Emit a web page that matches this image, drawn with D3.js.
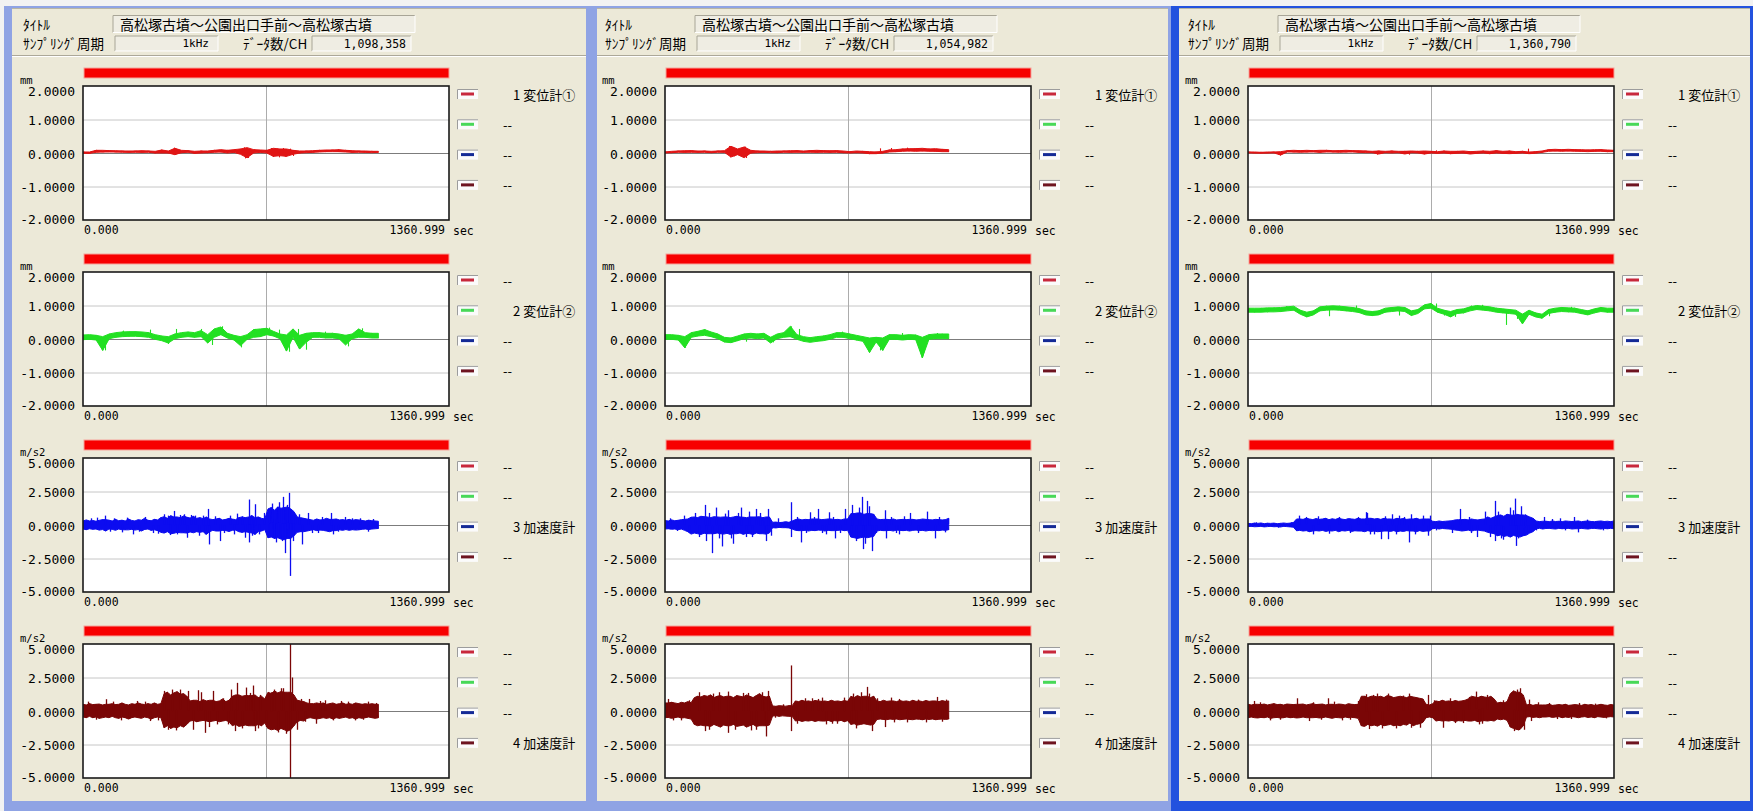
<!DOCTYPE html>
<html>
<head>
<meta charset="utf-8">
<script src="https://cdn.jsdelivr.net/npm/d3@7"></script>
<style>
  html, body { margin: 0; padding: 0; background: #ffffff; }
  svg { display: block; }
</style>
</head>
<body>
<svg id="chart" width="1753" height="811"></svg>
<script>
// ---- Recording metadata ----
const recordTitle = "高松塚古墳～公園出口手前～高松塚古墳";
const samplingLabel = "1kHz";
const sampleRateHz = 1000;
const sampleCounts = [1098358, 1054982, 1360790];
const timeAxisEnd = 1360.999;
const channelNames = ["変位計①", "変位計②", "加速度計", "加速度計"];
const channelUnits = ["mm", "mm", "m/s2", "m/s2"];
const dispTicks = [2, 1, 0, -1, -2];
const accelTicks = [5, 2.5, 0, -2.5, -5];

// ---- Min/max envelopes, evenly spaced over each recording; peaks are [sec, value] ----
// Record 1
const r1c1Hi = [0.03,0.03,0.08,0.08,0.07,0.07,0.06,0.06,0.06,0.07,0.06,0.05,0.09,0.06,0.14,0.08,0.07,0.05,0.06,0.06,0.08,0.10,0.08,0.10,0.12,0.16,0.10,0.09,0.08,0.14,0.12,0.12,0.08,0.06,0.06,0.07,0.08,0.09,0.09,0.10,0.08,0.07,0.06,0.06,0.05,0.05];
const r1c1Lo = [-0.01,-0.01,0.02,0.03,0.03,0.03,0.02,0.02,0.02,0.02,0.02,0.00,0.00,0.00,-0.05,0.01,0.02,-0.01,0.00,0.01,0.02,0.03,0.00,0.02,-0.04,-0.14,0.00,0.02,0.00,-0.10,-0.08,-0.10,-0.04,0.00,0.01,0.02,0.03,0.04,0.04,0.04,0.03,0.02,0.02,0.02,0.01,0.02];
const r1c1Peaks = [[340,0.16],[343,-0.06],[598,0.17],[602,-0.16],[608,0.15],[613,-0.15],[700,0.15],[706,-0.12],[720,0.13],[728,-0.13],[742,0.15],[750,-0.11],[770,0.13],[780,-0.09],[950,0.11]];
const r1c2Hi = [0.12,0.13,0.11,0.07,0.15,0.19,0.21,0.22,0.22,0.21,0.19,0.13,0.09,0.07,0.15,0.19,0.21,0.19,0.25,0.13,0.30,0.36,0.17,0.11,0.07,0.13,0.28,0.30,0.32,0.23,0.15,0.12,0.30,0.11,0.17,0.19,0.19,0.17,0.17,0.15,0.11,0.15,0.30,0.19,0.17,0.17];
const r1c2Lo = [-0.02,-0.01,-0.03,-0.34,0.01,0.05,0.07,0.08,0.08,0.07,0.05,-0.01,-0.05,-0.12,0.01,0.05,0.07,0.05,0.07,-0.12,0.05,0.13,0.03,-0.03,-0.20,-0.01,0.05,0.07,0.13,0.09,0.01,-0.36,0.05,-0.30,-0.10,0.05,0.05,0.03,0.03,0.01,-0.18,0.01,0.05,0.05,0.03,0.03];
const r1c2Peaks = [[81,-0.34],[150,0.25],[250,0.28],[317,-0.15],[345,0.3],[440,0.3],[480,-0.18],[516,0.38],[588,-0.25],[640,0.3],[690,0.34],[730,0.28],[766,-0.38],[800,0.3],[830,-0.32],[900,0.22],[987,-0.22],[1037,0.32]];
const r1c3Hi = [0.3,0.38,0.3,0.34,0.28,0.35,0.4,0.4,0.36,0.3,0.42,0.32,0.36,0.3,0.45,0.34,0.3,0.4,0.36,0.5,0.35,0.32,0.42,0.38,0.55,0.62,0.5,0.7,0.6,0.6,0.55,0.68,0.58,0.52,0.65,0.5,0.55,0.48,0.6,0.45,0.4,0.45,0.5,0.38,0.42,0.5,0.44,0.4,0.55,0.6,0.55,0.6,0.7,0.55,0.6,0.5,0.45,1.2,1.3,1.1,1.35,1.25,1.3,1.35,1.2,1.0,0.6,0.55,0.5,0.45,0.4,0.35,0.45,0.38,0.4,0.5,0.42,0.42,0.45,0.38,0.4,0.36,0.42,0.35,0.4,0.38,0.34,0.3,0.36,0.32,0.3,0.28];
const r1c3Lo = [-0.3,-0.35,-0.28,-0.32,-0.3,-0.38,-0.34,-0.45,-0.3,-0.32,-0.4,-0.3,-0.35,-0.36,-0.36,-0.32,-0.38,-0.34,-0.45,-0.33,-0.3,-0.4,-0.36,-0.42,-0.55,-0.6,-0.5,-0.65,-0.62,-0.55,-0.58,-0.58,-0.6,-0.52,-0.58,-0.5,-0.55,-0.5,-0.7,-0.5,-0.4,-0.45,-0.45,-0.4,-0.42,-0.48,-0.4,-0.38,-0.5,-0.55,-0.5,-0.55,-0.6,-0.7,-0.5,-0.45,-0.35,-0.95,-0.9,-1.0,-0.95,-1.05,-1.1,-1.0,-1.0,-0.8,-0.55,-0.5,-0.5,-0.45,-0.4,-0.35,-0.42,-0.38,-0.4,-0.45,-0.5,-0.42,-0.42,-0.36,-0.4,-0.34,-0.4,-0.35,-0.38,-0.36,-0.32,-0.3,-0.34,-0.3,-0.28,-0.26];
const r1c3Peaks = [[30,0.5],[53,0.55],[81,0.7],[100,-0.5],[117,0.5],[145,-0.55],[165,0.55],[187,-0.7],[210,-0.5],[231,0.6],[260,-0.6],[280,-0.65],[302,0.8],[315,0.7],[325,-0.75],[338,1.05],[350,-0.7],[360,0.75],[375,0.8],[388,-0.95],[400,0.75],[417,0.7],[431,-0.8],[445,0.7],[455,-0.7],[466,1.2],[470,-1.45],[490,0.65],[509,-1.2],[525,-0.6],[545,0.7],[560,-0.7],[573,0.85],[590,0.65],[602,-0.95],[616,1.9],[618,-1.3],[630,-0.8],[638,1.55],[655,-0.7],[673,0.9],[690,0.75],[702,1.6],[710,-1.0],[716,-1.3],[725,1.3],[730,1.7],[740,-1.2],[745,2.1],[752,-2.1],[758,1.5],[766,2.4],[769,-3.8],[780,-1.2],[790,0.8],[802,0.8],[816,-1.45],[837,0.9],[850,-0.6],[873,-0.6],[890,0.6],[923,0.9],[930,-0.7],[950,-0.5],[973,0.6],[1000,0.5],[1030,0.5],[1058,-0.5],[1080,0.45]];
const r1c4Hi = [0.5,0.45,0.55,0.48,0.5,0.52,0.45,0.5,0.5,0.55,0.48,0.5,0.6,0.5,0.45,0.55,0.5,0.6,0.52,0.48,0.55,0.5,0.6,0.5,0.55,1.3,1.4,1.2,1.35,1.45,1.25,1.3,1.1,0.75,0.8,0.8,0.7,0.85,0.75,0.8,0.8,0.7,0.75,0.9,0.7,0.8,1.1,1.2,1.2,1.1,1.15,1.15,1.15,1.2,1.0,1.1,0.9,1.4,1.3,1.5,1.35,1.45,1.4,1.4,1.4,1.2,0.8,0.75,0.7,0.6,0.55,0.55,0.6,0.55,0.6,0.5,0.55,0.6,0.5,0.55,0.6,0.5,0.55,0.5,0.6,0.55,0.5,0.55,0.5,0.55,0.5,0.5];
const r1c4Lo = [-0.45,-0.5,-0.4,-0.5,-0.45,-0.55,-0.5,-0.45,-0.5,-0.4,-0.5,-0.55,-0.45,-0.5,-0.6,-0.5,-0.45,-0.5,-0.55,-0.45,-0.5,-0.6,-0.5,-0.45,-0.5,-1.25,-1.1,-1.3,-1.2,-1.25,-1.1,-1.2,-1.0,-0.75,-0.7,-0.8,-0.75,-0.7,-0.75,-0.8,-0.75,-0.7,-0.8,-0.75,-0.7,-0.8,-1.1,-1.0,-1.15,-1.1,-1.05,-1.1,-1.1,-1.1,-1.0,-1.1,-0.9,-1.3,-1.4,-1.35,-1.45,-1.3,-1.4,-1.5,-1.4,-1.1,-0.8,-0.7,-0.75,-0.55,-0.5,-0.55,-0.6,-0.55,-0.5,-0.55,-0.5,-0.6,-0.5,-0.55,-0.5,-0.45,-0.55,-0.5,-0.6,-0.5,-0.55,-0.5,-0.45,-0.5,-0.55,-0.5];
const r1c4Peaks = [[20,0.7],[50,-0.65],[85,0.88],[110,0.7],[140,-0.7],[170,-0.6],[200,0.75],[230,0.7],[250,-0.75],[280,-0.7],[300,1.5],[315,-1.4],[330,1.6],[345,-1.45],[360,1.6],[390,1.5],[410,-1.4],[426,1.55],[440,1.4],[455,-1.63],[470,-1.2],[483,1.5],[500,-1.0],[520,0.95],[540,-1.0],[550,1.6],[565,-1.5],[572,2.1],[590,-1.3],[605,1.75],[620,1.35],[633,1.9],[640,-1.5],[650,-1.3],[660,1.2],[680,-1.2],[700,1.4],[710,1.6],[725,-1.6],[735,1.7],[745,1.7],[755,-1.7],[770,5.0],[771,-5.0],[776,2.5],[785,0.95],[795,-1.4],[812,0.9],[825,-0.8],[840,0.9],[866,-0.95],[880,0.75],[900,0.8],[930,-0.7],[960,0.75],[985,0.7],[1010,-0.7],[1040,-0.65],[1060,0.7],[1090,0.6]];

// Record 2
const r2c1Hi = [0.03,0.05,0.06,0.07,0.07,0.06,0.06,0.05,0.06,0.07,0.20,0.12,0.18,0.08,0.06,0.06,0.05,0.06,0.06,0.07,0.07,0.06,0.07,0.08,0.07,0.07,0.07,0.06,0.04,0.06,0.05,0.04,0.03,0.05,0.09,0.10,0.12,0.13,0.13,0.14,0.12,0.13,0.11,0.10];
const r2c1Lo = [0.00,0.01,0.02,0.02,0.02,0.02,0.02,0.01,0.02,0.02,-0.12,-0.05,-0.14,0.00,0.01,0.02,0.01,0.01,0.02,0.02,0.02,0.02,0.02,0.02,0.02,0.02,0.02,0.01,0.00,0.01,0.00,-0.02,-0.02,0.00,0.03,0.04,0.05,0.06,0.05,0.06,0.05,0.05,0.04,0.04];
const r2c1Peaks = [[238,0.21],[243,-0.13],[252,0.18],[258,-0.1],[296,0.19],[302,-0.15],[800,0.14],[840,0.15],[900,0.16]];
const r2c2Hi = [0.13,0.13,0.11,0.07,0.19,0.23,0.28,0.21,0.15,0.05,0.03,0.09,0.15,0.17,0.15,0.17,0.05,0.15,0.19,0.38,0.13,0.07,0.04,0.07,0.09,0.13,0.19,0.19,0.15,0.11,0.07,0.03,0.05,0.03,0.13,0.13,0.11,0.13,0.12,0.05,0.13,0.15,0.15,0.15];
const r2c2Lo = [-0.01,-0.01,-0.03,-0.26,0.05,0.09,0.11,0.07,0.01,-0.09,-0.11,-0.05,0.01,0.03,0.01,0.03,-0.12,0.01,0.05,0.07,-0.01,-0.07,-0.10,-0.07,-0.05,-0.01,0.05,0.05,0.01,-0.03,-0.07,-0.40,-0.09,-0.34,-0.01,-0.01,-0.03,-0.01,-0.02,-0.56,-0.01,0.01,0.01,0.01];
const r2c2Peaks = [[75,-0.26],[150,0.28],[300,-0.08],[400,-0.1],[470,0.38],[500,0.3],[660,0.22],[760,-0.4],[800,-0.34],[880,0.18],[955,-0.56],[1010,0.18]];
const r2c3Hi = [0.33,0.3,0.38,0.32,0.35,0.4,0.42,0.45,0.58,0.6,0.55,0.65,0.62,0.6,0.55,0.62,0.6,0.58,0.6,0.6,0.55,0.6,0.65,0.6,0.58,0.55,0.6,0.6,0.6,0.62,0.55,0.6,0.6,0.2,0.22,0.18,0.2,0.25,0.2,0.3,0.4,0.45,0.38,0.42,0.4,0.45,0.45,0.45,0.4,0.42,0.45,0.45,0.4,0.42,0.38,0.45,0.45,0.85,0.85,0.9,0.9,0.8,0.85,0.85,0.8,0.45,0.4,0.42,0.42,0.4,0.45,0.38,0.4,0.42,0.4,0.42,0.42,0.38,0.4,0.45,0.42,0.4,0.38,0.42,0.4,0.38,0.4,0.5];
const r2c3Lo = [-0.3,-0.28,-0.32,-0.3,-0.35,-0.3,-0.4,-0.5,-0.68,-0.6,-0.65,-0.7,-0.62,-0.65,-0.65,-0.65,-0.6,-0.65,-0.68,-0.62,-0.7,-0.65,-0.65,-0.6,-0.7,-0.62,-0.65,-0.7,-0.6,-0.65,-0.65,-0.68,-0.6,-0.2,-0.22,-0.18,-0.2,-0.2,-0.22,-0.3,-0.4,-0.42,-0.42,-0.4,-0.45,-0.4,-0.42,-0.38,-0.4,-0.45,-0.4,-0.42,-0.42,-0.4,-0.38,-0.42,-0.4,-0.9,-0.95,-1.0,-0.95,-0.9,-0.95,-0.9,-0.85,-0.45,-0.4,-0.42,-0.42,-0.4,-0.45,-0.38,-0.4,-0.42,-0.4,-0.45,-0.4,-0.38,-0.42,-0.4,-0.45,-0.4,-0.42,-0.4,-0.42,-0.38,-0.4,-0.35];
const r2c3Peaks = [[20,0.5],[45,-0.45],[69,0.7],[90,-0.6],[111,0.9],[125,-0.9],[147,1.5],[154,-1.2],[165,0.9],[176,-2.1],[190,1.3],[200,-1.0],[211,-1.6],[222,0.85],[233,1.1],[245,-1.0],[254,-1.4],[270,0.9],[283,1.3],[300,-0.9],[311,1.0],[325,-0.9],[340,1.2],[355,0.9],[376,-1.2],[383,1.2],[395,-0.8],[420,0.5],[468,1.7],[470,-0.9],[490,0.6],[504,-1.3],[525,-0.6],[540,0.95],[555,0.6],[568,1.2],[585,-0.6],[600,-0.7],[611,0.95],[625,0.6],[633,-1.0],[650,-0.6],[668,1.2],[690,-0.6],[697,1.5],[710,-1.2],[720,1.3],[733,2.1],[735,-1.8],[745,-1.4],[751,1.8],[760,1.4],[768,-1.95],[785,-0.6],[818,1.1],[820,-1.0],[840,0.6],[860,-0.6],[870,-0.7],[890,0.65],[911,0.9],[940,-0.6],[975,1.0],[1004,-1.0],[1020,0.6],[1040,-0.55],[1054,0.5]];
const r2c4Hi = [0.6,0.6,0.65,0.6,0.55,0.65,0.6,0.7,0.62,1.0,1.1,1.05,1.15,1.1,1.2,1.0,1.1,1.15,1.05,1.1,1.1,1.0,1.15,1.1,1.05,1.2,1.1,1.0,1.15,1.3,1.1,1.05,1.1,0.38,0.35,0.4,0.38,0.36,0.4,0.4,0.75,0.7,0.8,0.72,0.75,0.7,0.78,0.75,0.72,0.75,0.7,0.8,0.72,0.75,0.7,0.78,0.72,1.1,1.0,1.15,1.05,1.1,1.1,1.0,1.1,0.75,0.7,0.8,0.72,0.75,0.75,0.7,0.78,0.72,0.75,0.7,0.8,0.72,0.75,0.7,0.78,0.72,0.75,0.75,0.7,0.78,0.72,0.75];
const r2c4Lo = [-0.5,-0.48,-0.55,-0.5,-0.45,-0.52,-0.5,-0.55,-0.6,-1.0,-1.1,-1.05,-1.1,-1.1,-1.15,-1.0,-1.1,-1.2,-1.05,-1.1,-1.1,-1.0,-1.15,-1.1,-1.05,-1.2,-1.1,-1.0,-1.15,-1.1,-1.1,-1.1,-1.05,-0.38,-0.35,-0.4,-0.36,-0.38,-0.4,-0.4,-0.75,-0.7,-0.78,-0.72,-0.75,-0.7,-0.78,-0.72,-0.75,-0.75,-0.7,-0.78,-0.72,-0.75,-0.7,-0.8,-0.72,-1.0,-0.95,-1.05,-1.0,-0.95,-1.0,-1.05,-1.0,-0.63,-0.6,-0.63,-0.65,-0.6,-0.63,-0.6,-0.65,-0.62,-0.6,-0.63,-0.65,-0.6,-0.62,-0.65,-0.6,-0.63,-0.6,-0.65,-0.62,-0.6,-0.63,-0.6];
const r2c4Peaks = [[12,0.9],[30,-0.7],[60,-0.7],[90,0.8],[125,1.4],[147,-1.5],[165,-1.4],[180,1.3],[200,1.4],[233,1.45],[235,-1.63],[260,-1.4],[290,1.35],[310,1.35],[320,-1.45],[340,-1.4],[360,1.4],[376,-1.9],[383,1.5],[410,-0.5],[440,0.5],[468,3.4],[470,-1.5],[490,-0.95],[520,0.95],[545,0.95],[568,0.9],[585,1.0],[597,-1.0],[620,-0.95],[640,-0.95],[665,1.0],[690,-0.95],[700,1.3],[710,-1.3],[730,1.4],[750,1.8],[760,1.3],[771,-1.5],[790,0.95],[818,-1.2],[839,1.0],[850,-0.85],[870,0.9],[900,-0.85],[940,0.85],[970,-0.85],[1011,1.05],[1030,-0.8],[1045,0.85]];

// Record 3
const r3c1Hi = [0.03,0.03,0.02,0.03,0.03,0.04,0.07,0.08,0.07,0.08,0.07,0.08,0.08,0.07,0.07,0.08,0.07,0.07,0.06,0.05,0.06,0.05,0.06,0.05,0.05,0.06,0.05,0.06,0.05,0.04,0.06,0.05,0.05,0.06,0.04,0.05,0.06,0.05,0.07,0.05,0.06,0.04,0.05,0.03,0.04,0.06,0.10,0.11,0.10,0.11,0.10,0.10,0.09,0.10,0.10,0.09,0.08];
const r3c1Lo = [0.00,0.00,-0.01,0.00,0.00,-0.06,0.03,0.03,0.02,0.03,0.03,0.02,0.03,0.03,0.02,0.03,0.03,0.02,0.01,0.01,-0.03,0.01,0.00,0.01,-0.03,0.01,0.00,-0.03,0.00,-0.01,0.00,-0.02,-0.01,0.00,-0.03,-0.01,0.00,-0.02,0.00,-0.01,-0.02,-0.01,0.00,-0.02,-0.01,0.02,0.05,0.06,0.05,0.06,0.05,0.05,0.04,0.05,0.05,0.04,0.04];
const r3c1Peaks = [[120,-0.07],[480,-0.05],[600,-0.05],[700,0.08],[1040,0.13]];
const r3c2Hi = [0.92,0.92,0.92,0.93,0.93,0.94,0.96,0.98,0.86,0.80,0.84,0.96,0.98,0.99,0.98,0.96,0.94,0.91,0.84,0.82,0.84,0.92,0.94,0.96,0.94,0.84,0.88,1.02,1.06,0.92,0.86,0.82,0.88,0.90,0.96,1.00,0.98,0.96,0.92,0.90,0.88,0.86,0.74,0.86,0.78,0.74,0.88,0.92,0.94,0.93,0.92,0.88,0.84,0.90,0.94,0.92,0.92];
const r3c2Lo = [0.80,0.80,0.80,0.81,0.81,0.82,0.84,0.86,0.74,0.66,0.72,0.84,0.86,0.87,0.86,0.84,0.82,0.79,0.72,0.70,0.72,0.80,0.82,0.84,0.82,0.70,0.76,0.90,0.92,0.80,0.74,0.66,0.76,0.78,0.84,0.88,0.86,0.84,0.80,0.78,0.76,0.74,0.45,0.74,0.66,0.62,0.76,0.80,0.82,0.81,0.80,0.76,0.72,0.78,0.82,0.80,0.80];
const r3c2Peaks = [[140,0.98],[300,0.68],[400,1.0],[560,0.7],[700,1.06],[730,0.7],[770,0.66],[830,1.0],[870,1.02],[960,0.42],[1000,0.6],[1120,0.68],[1200,0.96]];
const r3c3Hi = [0.12,0.1,0.14,0.12,0.15,0.1,0.13,0.12,0.14,0.1,0.12,0.15,0.12,0.14,0.18,0.45,0.45,0.42,0.5,0.45,0.4,0.48,0.42,0.45,0.5,0.4,0.46,0.42,0.5,0.44,0.4,0.48,0.45,0.42,0.5,0.45,0.45,0.5,0.5,0.45,0.48,0.42,0.5,0.45,0.45,0.42,0.5,0.45,0.48,0.42,0.45,0.45,0.5,0.42,0.45,0.45,0.45,0.28,0.25,0.3,0.26,0.28,0.3,0.32,0.38,0.4,0.4,0.42,0.38,0.45,0.4,0.38,0.42,0.45,0.6,0.5,0.6,0.7,0.75,0.65,0.8,0.75,0.72,0.8,0.75,0.75,0.7,0.6,0.5,0.3,0.25,0.28,0.28,0.25,0.3,0.26,0.28,0.25,0.3,0.28,0.26,0.28,0.3,0.25,0.28,0.3,0.26,0.25,0.28,0.3,0.26,0.28,0.25,0.3];
const r3c3Lo = [-0.12,-0.1,-0.13,-0.12,-0.1,-0.14,-0.12,-0.1,-0.13,-0.12,-0.15,-0.1,-0.12,-0.14,-0.16,-0.43,-0.4,-0.45,-0.42,-0.5,-0.45,-0.42,-0.45,-0.4,-0.48,-0.43,-0.45,-0.4,-0.5,-0.42,-0.45,-0.4,-0.48,-0.43,-0.45,-0.45,-0.5,-0.42,-0.48,-0.45,-0.5,-0.48,-0.45,-0.45,-0.48,-0.42,-0.5,-0.45,-0.48,-0.42,-0.45,-0.45,-0.5,-0.42,-0.48,-0.45,-0.45,-0.28,-0.25,-0.3,-0.26,-0.28,-0.3,-0.32,-0.38,-0.4,-0.45,-0.42,-0.38,-0.45,-0.4,-0.38,-0.42,-0.45,-0.55,-0.6,-0.65,-0.8,-0.75,-0.85,-0.8,-0.9,-0.78,-0.85,-0.9,-0.8,-0.75,-0.6,-0.5,-0.28,-0.25,-0.3,-0.26,-0.25,-0.28,-0.3,-0.25,-0.28,-0.26,-0.25,-0.3,-0.28,-0.28,-0.25,-0.28,-0.3,-0.26,-0.25,-0.28,-0.3,-0.26,-0.28,-0.25,-0.28];
const r3c3Peaks = [[30,0.2],[110,-0.2],[160,0.2],[190,0.7],[215,0.6],[240,-0.7],[260,0.65],[300,-0.65],[340,0.6],[380,-0.6],[410,0.6],[437,0.96],[444,0.9],[455,-0.7],[470,-0.7],[494,-1.06],[510,0.65],[522,-1.06],[536,0.8],[550,-0.7],[560,0.7],[580,0.6],[599,-1.3],[606,0.8],[620,-0.7],[649,0.7],[670,-0.8],[677,0.7],[700,-0.4],[760,-0.6],[790,1.2],[820,0.6],[830,-0.6],[850,-0.9],[880,1.0],[900,-0.9],[917,1.8],[919,-1.2],[930,1.0],[940,-1.0],[950,-1.1],[973,1.3],[985,1.1],[994,1.97],[996,-1.56],[1005,-1.0],[1015,1.4],[1030,0.8],[1040,-0.5],[1070,-0.4],[1100,0.6],[1130,0.45],[1160,0.5],[1180,-0.4],[1213,0.6],[1227,-0.55],[1260,0.4],[1320,-0.4]];
const r3c4Hi = [0.5,0.45,0.5,0.5,0.48,0.52,0.45,0.5,0.55,0.48,0.5,0.45,0.52,0.5,0.48,0.5,0.5,0.52,0.45,0.5,0.55,0.48,0.5,0.52,0.45,0.5,0.5,0.48,0.52,0.5,0.45,0.55,0.5,0.48,0.5,1.1,1.1,1.0,1.1,1.1,1.05,1.1,1.0,1.15,1.1,1.0,1.05,1.1,1.05,1.0,1.1,1.05,1.0,0.95,0.9,0.5,0.45,0.55,0.75,0.7,0.8,0.72,0.75,0.7,0.78,0.72,0.75,0.8,0.9,1.1,1.05,1.0,1.1,1.05,1.0,1.1,0.9,0.6,0.65,0.6,0.7,1.3,1.5,1.4,1.4,1.2,0.45,0.5,0.42,0.48,0.45,0.45,0.45,0.5,0.42,0.45,0.48,0.45,0.5,0.42,0.45,0.48,0.45,0.42,0.5,0.45,0.48,0.42,0.45,0.5,0.45,0.42,0.48,0.45];
const r3c4Lo = [-0.5,-0.45,-0.5,-0.52,-0.48,-0.5,-0.45,-0.55,-0.5,-0.48,-0.52,-0.5,-0.45,-0.5,-0.48,-0.52,-0.5,-0.45,-0.5,-0.5,-0.5,-0.48,-0.52,-0.5,-0.45,-0.5,-0.55,-0.48,-0.5,-0.52,-0.45,-0.5,-0.48,-0.5,-0.55,-1.1,-1.15,-1.0,-1.1,-1.05,-1.13,-1.0,-1.1,-1.05,-1.0,-1.1,-1.05,-1.1,-1.0,-1.05,-0.9,-1.1,-1.0,-0.95,-0.85,-0.5,-0.45,-0.5,-0.75,-0.7,-0.75,-0.72,-0.75,-0.7,-0.78,-0.72,-0.75,-0.7,-0.75,-0.75,-0.7,-0.8,-0.75,-0.72,-0.75,-0.7,-0.75,-0.6,-0.65,-0.6,-0.7,-1.2,-1.3,-1.38,-1.38,-1.1,-0.45,-0.42,-0.48,-0.45,-0.5,-0.45,-0.45,-0.42,-0.48,-0.45,-0.42,-0.5,-0.45,-0.48,-0.42,-0.45,-0.5,-0.45,-0.42,-0.48,-0.45,-0.5,-0.42,-0.45,-0.48,-0.45,-0.42,-0.45];
const r3c4Peaks = [[21,0.75],[45,0.65],[80,-0.7],[120,-0.65],[183,0.95],[226,-0.75],[240,0.65],[270,-0.65],[296,0.95],[320,0.7],[350,-0.7],[380,-0.65],[409,0.75],[437,1.25],[450,-1.35],[465,1.2],[480,1.3],[500,-1.3],[520,1.3],[550,-1.3],[578,1.15],[600,1.3],[606,-1.25],[640,-1.25],[670,1.2],[690,0.8],[710,0.7],[726,-1.25],[750,0.95],[770,-0.9],[800,-0.9],[820,1.05],[846,1.45],[860,-1.0],[870,-0.95],[890,1.2],[950,0.8],[990,-1.5],[1001,1.6],[1003,-1.45],[1010,1.7],[1025,-1.4],[1044,0.85],[1051,-0.75],[1080,0.65],[1120,0.6],[1150,-0.6],[1200,-0.6],[1230,0.6],[1290,0.55],[1330,-0.55]];

const records = [
  { hi: [r1c1Hi, r1c2Hi, r1c3Hi, r1c4Hi], lo: [r1c1Lo, r1c2Lo, r1c3Lo, r1c4Lo], peaks: [r1c1Peaks, r1c2Peaks, r1c3Peaks, r1c4Peaks] },
  { hi: [r2c1Hi, r2c2Hi, r2c3Hi, r2c4Hi], lo: [r2c1Lo, r2c2Lo, r2c3Lo, r2c4Lo], peaks: [r2c1Peaks, r2c2Peaks, r2c3Peaks, r2c4Peaks] },
  { hi: [r3c1Hi, r3c2Hi, r3c3Hi, r3c4Hi], lo: [r3c1Lo, r3c2Lo, r3c3Lo, r3c4Lo], peaks: [r3c1Peaks, r3c2Peaks, r3c3Peaks, r3c4Peaks] }
];

// ---- Styling ----
const traceColors = ["#e01414", "#22e022", "#0c0cf0", "#7a0606"];
const legendColors = ["#c8283c", "#48d858", "#142a96", "#6e1420"];
const monoFont = "'DejaVu Sans Mono', 'Liberation Mono', monospace";
const jpFont = "'Noto Sans CJK JP', 'Noto Sans', sans-serif";
const panelBg = "#ece9d8";

const locale = d3.formatLocale({ decimal: ".", thousands: ",", grouping: [3], currency: ["", ""], minus: "-" });
const fmtY = locale.format(".4f");
const fmtX = locale.format(".3f");
const fmtCount = locale.format(",");

// ---- Layout ----
const svg = d3.select("#chart");
const plotW = 366, plotH = 134;
const rowTop = [86, 272, 458, 644];
const plotLeft = [83, 665, 1248];
const frames = [
  { x0: 4, x1: 589, edge: "#8fa3e4" },
  { x0: 589, x1: 1171, edge: "#8fa3e4" },
  { x0: 1171, x1: 1753, edge: "#2352de" }
];

svg.append("rect").attr("width", 1753).attr("height", 811).attr("fill", "#f2f2f2");

frames.forEach((f, p) => {
  const L = plotLeft[p];
  const g = svg.append("g");
  // window frame
  g.append("rect").attr("x", f.x0).attr("y", 6).attr("width", f.x1 - f.x0).attr("height", 805).attr("fill", f.edge);
  g.append("rect").attr("x", f.x0 + 8).attr("y", 8).attr("width", f.x1 - f.x0 - 11).attr("height", 793).attr("fill", panelBg);
  g.append("line").attr("x1", f.x0 + 8).attr("x2", f.x1 - 3).attr("y1", 8.5).attr("y2", 8.5).attr("stroke", "#b8b5a6");

  // header
  const hdr = g.append("g").attr("font-family", jpFont).attr("font-size", 13.5).attr("fill", "#000");
  hdr.append("text").attr("x", L - 60).attr("y", 24).attr("dominant-baseline", "central").text("ﾀｲﾄﾙ");
  hdr.append("text").attr("x", L - 60).attr("y", 43).attr("dominant-baseline", "central").text("ｻﾝﾌﾟﾘﾝｸﾞ周期");
  const box = (x, y, w, h) => {
    hdr.append("rect").attr("x", x).attr("y", y).attr("width", w).attr("height", h).attr("fill", "#efede3");
    hdr.append("path").attr("d", `M${x},${y + h}V${y}H${x + w}`).attr("fill", "none").attr("stroke", "#a8a597");
    hdr.append("path").attr("d", `M${x + w},${y}V${y + h}H${x}`).attr("fill", "none").attr("stroke", "#ffffff");
  };
  box(L + 30, 15.5, 302, 17);
  hdr.append("text").attr("x", L + 37).attr("y", 24).attr("dominant-baseline", "central").attr("font-size", 14).text(recordTitle);
  box(L + 32, 36, 103, 15);
  hdr.append("text").attr("x", L + 126).attr("y", 43.5).attr("text-anchor", "end").attr("dominant-baseline", "central")
    .attr("font-family", monoFont).attr("font-size", 11).text(samplingLabel);
  hdr.append("text").attr("x", L + 160).attr("y", 43).attr("dominant-baseline", "central").text("ﾃﾞｰﾀ数/CH");
  box(L + 229, 36, 99, 15);
  hdr.append("text").attr("x", L + 323).attr("y", 43.5).attr("text-anchor", "end").attr("dominant-baseline", "central")
    .attr("font-family", monoFont).attr("font-size", 11.5).text(fmtCount(sampleCounts[p]));
  g.append("line").attr("x1", f.x0 + 8).attr("x2", f.x1 - 3).attr("y1", 55.5).attr("y2", 55.5).attr("stroke", "#aca899");
  g.append("line").attr("x1", f.x0 + 8).attr("x2", f.x1 - 3).attr("y1", 56.5).attr("y2", 56.5).attr("stroke", "#ffffff");

  const duration = sampleCounts[p] / sampleRateHz;

  rowTop.forEach((T, k) => {
    const isDisp = k < 2;
    const ticks = isDisp ? dispTicks : accelTicks;
    const x = d3.scaleLinear().domain([0, timeAxisEnd]).range([L, L + plotW]);
    const y = d3.scaleLinear().domain([d3.min(ticks), d3.max(ticks)]).range([T + plotH, T]);
    const cg = g.append("g");

    // red range bar above the plot
    cg.append("rect").attr("x", L + 1).attr("y", T - 18).attr("width", plotW - 1).attr("height", 10)
      .attr("fill", "#f70000").attr("stroke", "#f6a39a").attr("stroke-width", 1);

    // unit
    cg.append("text").attr("x", L - 63).attr("y", T - 6).attr("dominant-baseline", "central")
      .attr("font-family", monoFont).attr("font-size", 10.5).attr("fill", "#000").text(channelUnits[k]);

    // plot background and grid
    cg.append("rect").attr("x", L).attr("y", T).attr("width", plotW).attr("height", plotH).attr("fill", "#ffffff");
    cg.selectAll(".grid").data(ticks.filter(v => v !== 0 && v !== ticks[0] && v !== ticks[ticks.length - 1]))
      .enter().append("line")
      .attr("x1", L).attr("x2", L + plotW).attr("y1", v => y(v) + 0.5).attr("y2", v => y(v) + 0.5)
      .attr("stroke", "#c6c6c6");
    cg.append("line").attr("x1", x(timeAxisEnd / 2) + 0.5).attr("x2", x(timeAxisEnd / 2) + 0.5)
      .attr("y1", T).attr("y2", T + plotH).attr("stroke", "#acacac");
    cg.append("line").attr("x1", L).attr("x2", L + plotW).attr("y1", y(0) + 0.5).attr("y2", y(0) + 0.5)
      .attr("stroke", "#7c7c7c").attr("stroke-width", 1.2);

    // trace envelope
    const clipId = `clip-${p}-${k}`;
    cg.append("clipPath").attr("id", clipId).append("rect")
      .attr("x", L).attr("y", T).attr("width", plotW).attr("height", plotH);
    const hi = records[p].hi[k], lo = records[p].lo[k];
    const n = hi.length;
    const pts = hi.map((h, i) => ({ t: i * duration / (n - 1), hi: h, lo: lo[i] }));
    const area = d3.area().x(d => x(d.t)).y0(d => y(d.lo)).y1(d => y(d.hi));
    const tg = cg.append("g").attr("clip-path", `url(#${clipId})`);
    tg.append("path").attr("d", area(pts)).attr("fill", traceColors[k])
      .attr("stroke", traceColors[k]).attr("stroke-width", 1).attr("stroke-linejoin", "bevel");
    // zig-zag between successive maxima and minima
    const zig = pts.map((d, i) => `${i ? "L" : "M"}${x(d.t)},${y(i % 2 ? d.lo : d.hi)}`).join("");
    tg.append("path").attr("d", zig).attr("fill", "none").attr("stroke", traceColors[k]).attr("stroke-width", 1);
    // isolated peaks, drawn from the envelope centre at that moment
    const centreAt = t => {
      const fi = Math.max(0, Math.min(n - 1, t / duration * (n - 1)));
      const i0 = Math.min(n - 2, Math.floor(fi)), u = fi - i0;
      return ((hi[i0] + lo[i0]) * (1 - u) + (hi[i0 + 1] + lo[i0 + 1]) * u) / 2;
    };
    tg.selectAll(".peak").data(records[p].peaks[k]).enter().append("line")
      .attr("x1", d => Math.round(x(d[0])) + 0.5).attr("x2", d => Math.round(x(d[0])) + 0.5)
      .attr("y1", d => y(centreAt(d[0]))).attr("y2", d => y(d[1]))
      .attr("stroke", traceColors[k]).attr("stroke-width", isDisp ? 1.1 : 1.3);

    // plot frame
    cg.append("rect").attr("x", L).attr("y", T).attr("width", plotW).attr("height", plotH)
      .attr("fill", "none").attr("stroke", "#1a1a1a").attr("stroke-width", 1.6);

    // y axis labels
    const yAxis = d3.axisLeft(y).tickValues(ticks).tickSize(0).tickPadding(8).tickFormat(fmtY);
    const ag = cg.append("g").attr("transform", `translate(${L},0)`).call(yAxis);
    ag.select(".domain").remove();
    ag.selectAll("text").attr("font-family", monoFont).attr("font-size", 13).attr("fill", "#000")
      .attr("dy", (d, i) => i === 0 ? "0.72em" : (i === ticks.length - 1 ? "0.24em" : "0.4em"));

    // time labels
    cg.append("text").attr("x", x(0) + 1).attr("y", T + plotH + 10).attr("dominant-baseline", "central")
      .attr("font-family", monoFont).attr("font-size", 11.5).text(fmtX(0));
    cg.append("text").attr("x", x(timeAxisEnd) - 4).attr("y", T + plotH + 10).attr("dominant-baseline", "central")
      .attr("text-anchor", "end").attr("font-family", monoFont).attr("font-size", 11.5).text(fmtX(timeAxisEnd));
    cg.append("text").attr("x", x(timeAxisEnd) + 4).attr("y", T + plotH + 11).attr("dominant-baseline", "central")
      .attr("font-family", monoFont).attr("font-size", 11.5).text("sec");

    // legend: four channel swatches, the active one labelled
    legendColors.forEach((c, j) => {
      const cy = T + 8 + j * 30.3;
      cg.append("rect").attr("x", L + 374).attr("y", cy - 5).attr("width", 21).attr("height", 10).attr("fill", "#fbfbfb");
      cg.append("path").attr("d", `M${L + 374.5},${cy + 5}V${cy - 4.5}H${L + 395}`).attr("fill", "none").attr("stroke", "#9c9c9c");
      cg.append("rect").attr("x", L + 378).attr("y", cy - 1.5).attr("width", 13).attr("height", 3).attr("fill", c);
      const label = j === k ? `${k + 1} ${channelNames[k]}` : "--";
      cg.append("text").attr("x", j === k ? L + 430 : L + 420).attr("y", cy).attr("dominant-baseline", "central")
        .attr("font-family", jpFont).attr("font-size", 13).attr("fill", "#000").text(label);
    });
  });
});
</script>
</body>
</html>
